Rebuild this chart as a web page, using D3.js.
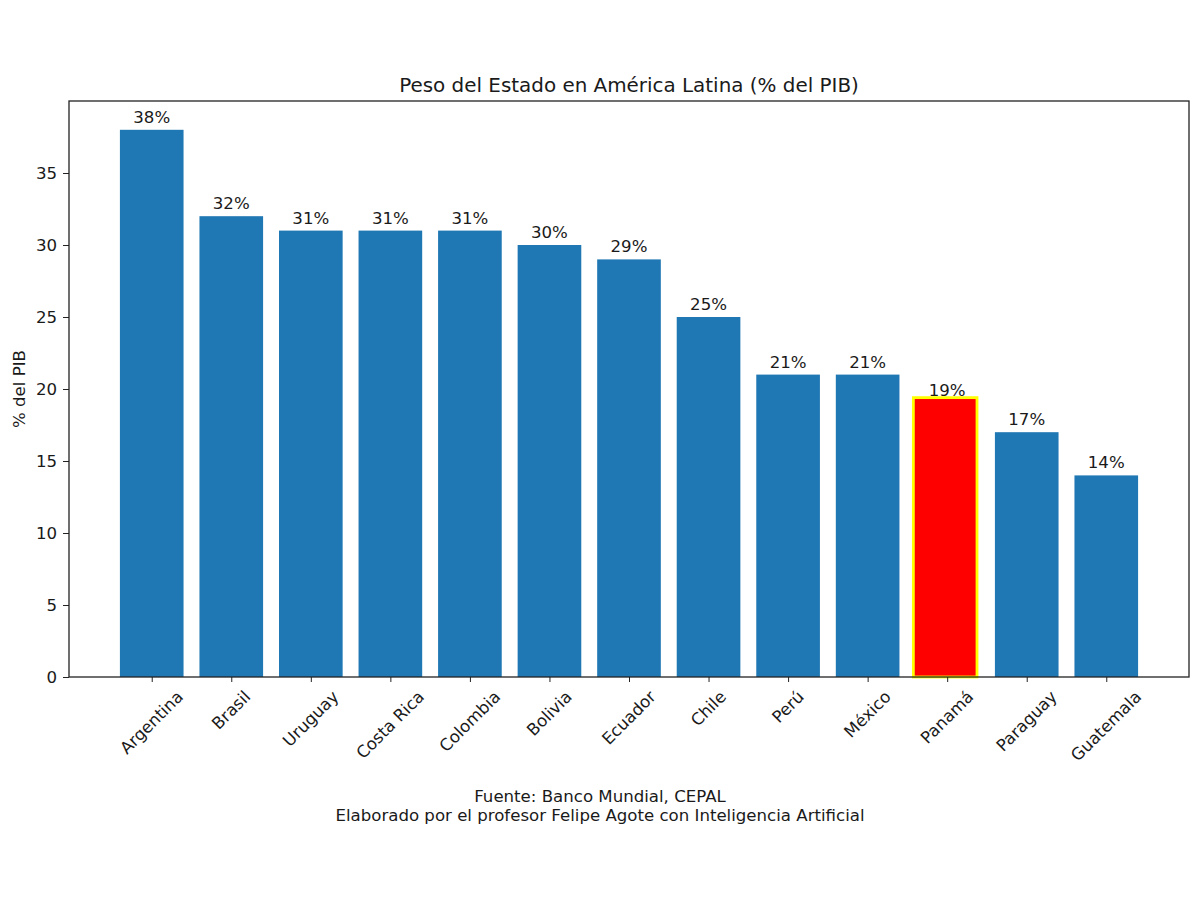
<!DOCTYPE html>
<html>
<head>
<meta charset="utf-8">
<script src="https://cdn.jsdelivr.net/npm/d3@7"></script>
<style>
  body { margin: 0; background: #fff; }
  svg text { font-family: "DejaVu Sans", sans-serif; fill: #1a1a1a; }
</style>
</head>
<body>
<svg id="svg" width="1200" height="900"></svg>
<script>
// Data
const countries = ['Argentina', 'Brasil', 'Uruguay', 'Costa Rica', 'Colombia', 'Bolivia',
  'Ecuador', 'Chile', 'Perú', 'México', 'Panamá', 'Paraguay', 'Guatemala'];
const values = [38, 32, 31, 31, 31, 30, 29, 25, 21, 21, 19.4, 17, 14];
const highlight = 'Panamá';
const yTicks = [0, 5, 10, 15, 20, 25, 30, 35];

const title = 'Peso del Estado en América Latina (% del PIB)';
const yLabel = '% del PIB';
const footer = ['Fuente: Banco Mundial, CEPAL',
  'Elaborado por el profesor Felipe Agote con Inteligencia Artificial'];

/*********************
 * Layout
 *********************/
const plot = {left: 69, right: 1189, top: 101, bottom: 677};
const fontSize = 16.6;
const svg = d3.select('#svg');

// matplotlib-ish x range: bars of width 0.8 plus 5% margin
const x = d3.scaleLinear().domain([-1.04, countries.length - 1 + 1.04]).range([plot.left, plot.right]);
const y = d3.scaleLinear().domain([0, 40]).range([plot.bottom, plot.top]);
const barW = x(0.4) - x(-0.4);

/*********************
 * Bars
 *********************/
svg.append('g')
  .selectAll('rect')
  .data(countries)
  .enter()
  .append('rect')
  .attr('x', (d, i) => x(i) - barW / 2 - (d === highlight ? 2 : 0))
  .attr('y', (d, i) => y(values[i]))
  .attr('width', barW)
  .attr('height', (d, i) => y(0) - y(values[i]))
  .attr('fill', d => d === highlight ? '#ff0000' : '#1f77b4')
  .attr('stroke', d => d === highlight ? '#ffff00' : 'none')
  .attr('stroke-width', 2.8);

// value labels (placed at the rounded value, as in the original)
svg.append('g')
  .selectAll('text')
  .data(countries)
  .enter()
  .append('text')
  .attr('x', (d, i) => x(i))
  .attr('y', (d, i) => y(Math.round(values[i])) - 7)
  .attr('text-anchor', 'middle')
  .style('font-size', fontSize + 'px')
  .text((d, i) => Math.round(values[i]) + '%');

/*********************
 * Axes
 *********************/
const yAxis = d3.axisLeft(y).tickValues(yTicks).tickSize(6).tickPadding(6);
const gy = svg.append('g')
  .attr('transform', `translate(${plot.left},0)`)
  .call(yAxis);
gy.select('.domain').remove();
gy.selectAll('line').attr('stroke', '#222');
gy.selectAll('text')
  .style('font-size', fontSize + 'px')
  .style('font-family', '"DejaVu Sans", sans-serif')
  .attr('fill', '#1a1a1a');

const xAxis = d3.axisBottom(x).tickValues(d3.range(countries.length)).tickSize(5).tickFormat('');
const gx = svg.append('g')
  .attr('transform', `translate(0,${plot.bottom})`)
  .call(xAxis);
gx.select('.domain').remove();
gx.selectAll('line').attr('stroke', '#222');

// rotated tick labels, centred under the tick like ha='center'
const labels = svg.append('g')
  .selectAll('text')
  .data(countries)
  .enter()
  .append('text')
  .attr('text-anchor', 'middle')
  .attr('dominant-baseline', 'central')
  .style('font-size', fontSize + 'px')
  .text(d => d);

labels.each(function (d, i) {
  const w = this.getComputedTextLength();
  const h = fontSize;
  const half = (w + h) * Math.SQRT1_2 / 2;
  const cx = x(i);
  const cy = plot.bottom + 11 + half;
  d3.select(this).attr('x', cx).attr('y', cy)
    .attr('transform', `rotate(-45,${cx},${cy})`);
});

// frame
svg.append('rect')
  .attr('x', plot.left)
  .attr('y', plot.top)
  .attr('width', plot.right - plot.left)
  .attr('height', plot.bottom - plot.top)
  .attr('fill', 'none')
  .attr('stroke', '#222')
  .attr('stroke-width', 1.3);

/*********************
 * Texts
 *********************/
svg.append('text')
  .attr('x', (plot.left + plot.right) / 2)
  .attr('y', 92)
  .attr('text-anchor', 'middle')
  .style('font-size', (fontSize * 1.2) + 'px')
  .text(title);

svg.append('text')
  .attr('transform', `translate(25,${(plot.top + plot.bottom) / 2}) rotate(-90)`)
  .attr('text-anchor', 'middle')
  .style('font-size', fontSize + 'px')
  .text(yLabel);

svg.append('g')
  .selectAll('text')
  .data(footer)
  .enter()
  .append('text')
  .attr('x', 600)
  .attr('y', (d, i) => 802 + i * 19)
  .attr('text-anchor', 'middle')
  .style('font-size', fontSize + 'px')
  .text(d => d);
</script>
</body>
</html>
